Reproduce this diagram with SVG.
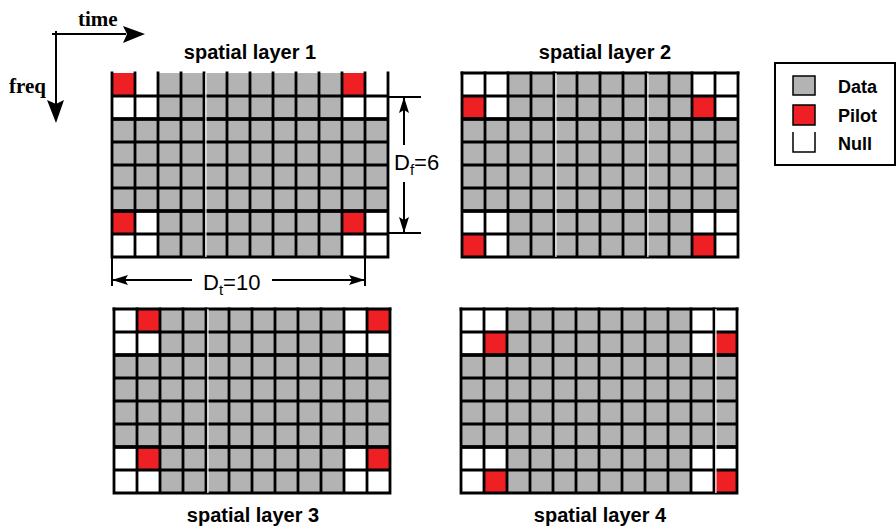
<svg xmlns="http://www.w3.org/2000/svg" xmlns:xlink="http://www.w3.org/1999/xlink" width="896" height="530" viewBox="0 0 896 530">
  <style>
    .title { font-family: "Liberation Sans", Arial, sans-serif; font-weight: bold; font-size: 20px; text-anchor: middle; fill: #000; }
    .legend { font-family: "Liberation Sans", Arial, sans-serif; font-weight: bold; font-size: 18px; fill: #000; }
    .axis { font-family: "Liberation Serif", "Times New Roman", serif; font-weight: bold; font-size: 21px; fill: #000; }
    .dim { font-family: "Liberation Sans", Arial, sans-serif; font-size: 22px; fill: #000; }
    .sub { font-size: 15px; }
    .data { fill: #b3b3b3; }
    .pilot { fill: #ee2024; }
    .null { fill: #ffffff; }
    .grid { fill: none; stroke: #000; stroke-width: 2.8; stroke-linecap: square; }
    .heavy { fill: none; stroke: #000; stroke-width: 3.6; }
    .seam { stroke: #fff; stroke-width: 1.2; }
    .line { fill: none; stroke: #000; stroke-width: 2; }
  </style>
  <defs>
    <!-- 12 x 8 resource grid, 23 px cells -->
    <rect id="bg" x="0" y="0" width="276" height="184" class="data"/>
    <path id="lines" class="grid" d="M0,0V184M23,0V184M46,0V184M69,0V184M92,0V184M115,0V184M138,0V184M161,0V184M184,0V184M207,0V184M230,0V184M253,0V184M276,0V184M0,23H276M0,46H276M0,69H276M0,92H276M0,115H276M0,138H276M0,161H276M0,184H276"/>
    <path id="topline" class="grid" d="M0,0H276"/>
    <path id="thick" class="heavy" d="M0,46H276M0,138H276"/>
    <marker id="head" viewBox="0 0 16 10" refX="15" refY="5" markerWidth="16" markerHeight="10" markerUnits="userSpaceOnUse" orient="auto">
      <path d="M0,0L16,5L0,10L3,5z" fill="#000"/>
    </marker>
  </defs>

  <!-- time / frequency axes -->
  <g id="axes">
    <path class="line" d="M52,34H126"/>
    <polygon points="123,26 145,34 123,43 127,34" fill="#000"/>
    <path class="line" d="M56,31V104"/>
    <polygon points="47,100 56,123 64,100 56,104" fill="#000"/>
    <text class="axis" x="78" y="26">time</text>
    <text class="axis" x="9" y="93">freq</text>
  </g>

  <!-- spatial layer 1 -->
  <g id="layer1" transform="translate(112,73)">
    <use xlink:href="#bg"/>
    <rect class="pilot" x="0" y="0" width="23" height="23"/>
    <rect class="null" x="23" y="0" width="23" height="23"/>
    <rect class="pilot" x="230" y="0" width="23" height="23"/>
    <rect class="null" x="253" y="0" width="23" height="23"/>
    <rect class="null" x="0" y="23" width="46" height="23"/>
    <rect class="null" x="230" y="23" width="46" height="23"/>
    <rect class="pilot" x="0" y="138" width="23" height="23"/>
    <rect class="null" x="23" y="138" width="23" height="23"/>
    <rect class="pilot" x="230" y="138" width="23" height="23"/>
    <rect class="null" x="253" y="138" width="23" height="23"/>
    <rect class="null" x="0" y="161" width="46" height="23"/>
    <rect class="null" x="230" y="161" width="46" height="23"/>
    <use xlink:href="#lines"/>
    <use xlink:href="#thick"/>
    <path class="seam" d="M93.9,0V184"/>
    <text class="title" x="138" y="-14">spatial layer 1</text>
  </g>

  <!-- spatial layer 2 -->
  <g id="layer2" transform="translate(462,73)">
    <use xlink:href="#bg"/>
    <rect class="null" x="0" y="0" width="46" height="23"/>
    <rect class="null" x="230" y="0" width="46" height="23"/>
    <rect class="pilot" x="0" y="23" width="23" height="23"/>
    <rect class="null" x="23" y="23" width="23" height="23"/>
    <rect class="pilot" x="230" y="23" width="23" height="23"/>
    <rect class="null" x="253" y="23" width="23" height="23"/>
    <rect class="null" x="0" y="138" width="46" height="23"/>
    <rect class="null" x="230" y="138" width="46" height="23"/>
    <rect class="pilot" x="0" y="161" width="23" height="23"/>
    <rect class="null" x="23" y="161" width="23" height="23"/>
    <rect class="pilot" x="230" y="161" width="23" height="23"/>
    <rect class="null" x="253" y="161" width="23" height="23"/>
    <use xlink:href="#lines"/>
    <use xlink:href="#topline"/>
    <use xlink:href="#thick"/>
    <path class="seam" d="M93.9,0V184M185.9,0V184"/>
    <text class="title" x="143" y="-14">spatial layer 2</text>
  </g>

  <!-- spatial layer 3 -->
  <g id="layer3" transform="translate(114,309)">
    <use xlink:href="#bg"/>
    <rect class="null" x="0" y="0" width="23" height="23"/>
    <rect class="pilot" x="23" y="0" width="23" height="23"/>
    <rect class="null" x="230" y="0" width="23" height="23"/>
    <rect class="pilot" x="253" y="0" width="23" height="23"/>
    <rect class="null" x="0" y="23" width="46" height="23"/>
    <rect class="null" x="230" y="23" width="46" height="23"/>
    <rect class="null" x="0" y="138" width="23" height="23"/>
    <rect class="pilot" x="23" y="138" width="23" height="23"/>
    <rect class="null" x="230" y="138" width="23" height="23"/>
    <rect class="pilot" x="253" y="138" width="23" height="23"/>
    <rect class="null" x="0" y="161" width="46" height="23"/>
    <rect class="null" x="230" y="161" width="46" height="23"/>
    <use xlink:href="#lines"/>
    <use xlink:href="#topline"/>
    <use xlink:href="#thick"/>
    <path class="seam" d="M93.9,0V184"/>
    <text class="title" x="139" y="213">spatial layer 3</text>
  </g>

  <!-- spatial layer 4 -->
  <g id="layer4" transform="translate(461,309)">
    <use xlink:href="#bg"/>
    <rect class="null" x="0" y="0" width="46" height="23"/>
    <rect class="null" x="230" y="0" width="46" height="23"/>
    <rect class="null" x="0" y="23" width="23" height="23"/>
    <rect class="pilot" x="23" y="23" width="23" height="23"/>
    <rect class="null" x="230" y="23" width="23" height="23"/>
    <rect class="pilot" x="253" y="23" width="23" height="23"/>
    <rect class="null" x="0" y="138" width="46" height="23"/>
    <rect class="null" x="230" y="138" width="46" height="23"/>
    <rect class="null" x="0" y="161" width="23" height="23"/>
    <rect class="pilot" x="23" y="161" width="23" height="23"/>
    <rect class="null" x="230" y="161" width="23" height="23"/>
    <rect class="pilot" x="253" y="161" width="23" height="23"/>
    <use xlink:href="#lines"/>
    <use xlink:href="#topline"/>
    <use xlink:href="#thick"/>
    <path class="seam" d="M254.9,0V184"/>
    <text class="title" x="139" y="213">spatial layer 4</text>
  </g>

  <!-- legend -->
  <g id="legend">
    <rect x="775" y="63" width="120" height="102" fill="#fff" stroke="#000" stroke-width="2"/>
    <rect class="data" x="793" y="76" width="22" height="19" stroke="#000" stroke-width="1.5"/>
    <rect class="pilot" x="793" y="105" width="22" height="20" stroke="#000" stroke-width="1.5"/>
    <path d="M793,132V152H815V132" fill="none" stroke="#000" stroke-width="1.5"/>
    <text class="legend" x="838" y="93">Data</text>
    <text class="legend" x="838" y="122">Pilot</text>
    <text class="legend" x="838" y="150">Null</text>
  </g>

  <!-- dimension lines -->
  <g id="dimensions">
    <path class="line" d="M388,97H421M388,233H421"/>
    <path class="line" d="M404,145V98" marker-end="url(#head)"/>
    <path class="line" d="M404,182V232" marker-end="url(#head)"/>
    <text class="dim" x="394" y="170">D<tspan class="sub" dy="5">f</tspan><tspan dy="-5">=6</tspan></text>
    <path class="line" d="M112,257V286M365,257V286"/>
    <path class="line" d="M192,280H113" marker-end="url(#head)"/>
    <path class="line" d="M272,280H364" marker-end="url(#head)"/>
    <text class="dim" x="203" y="290">D<tspan class="sub" dy="5">t</tspan><tspan dy="-5">=10</tspan></text>
  </g>
</svg>
